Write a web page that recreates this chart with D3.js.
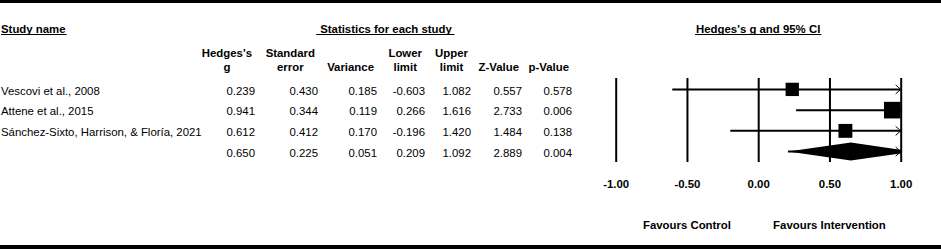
<!DOCTYPE html>
<html>
<head>
<meta charset="utf-8">
<script src="https://cdn.jsdelivr.net/npm/d3@7"></script>
<style>
  body { margin: 0; background: #fff; }
  svg { display: block; font-family: "Liberation Sans", Arial, sans-serif; }
</style>
</head>
<body>
<div id="forest"></div>
<script>
// study rows (last row is the pooled estimate)
var studyNames = ["Vescovi et al., 2008", "Attene et al., 2015", "Sánchez-Sixto, Harrison, & Floría, 2021", ""];
var hedgesG  = [0.239, 0.941, 0.612, 0.650];
var stdErr   = [0.430, 0.344, 0.412, 0.225];
var variance = [0.185, 0.119, 0.170, 0.051];
var lowerLim = [-0.603, 0.266, -0.196, 0.209];
var upperLim = [1.082, 1.616, 1.420, 1.092];
var zValue   = [0.557, 2.733, 1.484, 2.889];
var pValue   = [0.578, 0.006, 0.138, 0.004];

var colHeaders = [["Hedges's", "g"], ["Standard", "error"], ["Variance"], ["Lower", "limit"],
                  ["Upper", "limit"], ["Z-Value"], ["p-Value"]];
var xTicks = [-1, -0.5, 0, 0.5, 1];
var favourLabels = ["Favours Control", "Favours Intervention"];

var width = 941, height = 249;

var svg = d3.select("#forest")
  .append("svg")
    .attr("width", width)
    .attr("height", height);

// black bands top and bottom
svg.append("rect").attr("x", 0).attr("y", 0).attr("width", width).attr("height", 3).attr("fill", "#000");
svg.append("rect").attr("x", 0).attr("y", 245).attr("width", width).attr("height", 4).attr("fill", "#000");

var fontSize = 11.4;

// row positions
var y = d3.scalePoint()
  .domain(d3.range(studyNames.length))
  .range([89.4, 151.6]);

// table columns (right edge of each number column)
var columns = [hedgesG, stdErr, variance, lowerLim, upperLim, zValue, pValue];
var colX = d3.scaleOrdinal()
  .domain(d3.range(columns.length))
  .range([255, 318, 377, 425, 471, 522, 572]);

function underlined(txt, x, yy, anchor, padL, padR) {
  var t = svg.append("text")
    .attr("x", x).attr("y", yy)
    .attr("text-anchor", anchor)
    .attr("font-weight", "bold")
    .attr("font-size", fontSize)
    .text(txt);
  var b = t.node().getBBox();
  svg.append("line")
    .attr("x1", b.x - padL).attr("x2", b.x + b.width + padR)
    .attr("y1", 34.5).attr("y2", 34.5)
    .attr("stroke", "#000").attr("stroke-width", 1.2);
}

underlined("Study name", 1, 32.5, "start", 0, 1);
underlined("Statistics for each study", 386, 32.5, "middle", 4, 2);

// column headers
colHeaders.forEach(function(lines, i) {
  var g = svg.append("g");
  var texts = lines.map(function(l, j) {
    return g.append("text")
      .attr("y", lines.length == 2 ? 56.7 + j * 14 : 70.7)
      .attr("text-anchor", "middle")
      .attr("font-weight", "bold")
      .attr("font-size", fontSize)
      .text(l);
  });
  var w = d3.max(texts, function(t) { return t.node().getComputedTextLength(); });
  var cx = colX(i) - 3 - w / 2;
  texts.forEach(function(t) { t.attr("x", cx); });
});

// study names
svg.selectAll(".name")
  .data(studyNames)
  .enter().append("text")
    .attr("class", "name")
    .attr("x", 1)
    .attr("y", function(d, i) { return y(i) + 5.2; })
    .attr("font-size", fontSize)
    .text(function(d) { return d; });

// numbers
columns.forEach(function(col, c) {
  svg.selectAll(".col" + c)
    .data(col)
    .enter().append("text")
      .attr("class", "col" + c)
      .attr("x", colX(c))
      .attr("y", function(d, i) { return y(i) + 5.2; })
      .attr("text-anchor", "end")
      .attr("font-size", fontSize)
      .text(function(d) { return d.toFixed(3); });
});

// ---- forest plot ----
var x = d3.scaleLinear()
  .domain([-1, 1])
  .range([615.7, 900.7]);

var plotTop = 78, plotBottom = 162;

underlined("Hedges's g and 95% CI", x(0), 32.5, "middle", 1, 1);

var fmt = function(d) { return d3.format(".2f")(d).replace("\u2212", "-"); };

var axis = svg.append("g")
  .attr("transform", "translate(0," + plotBottom + ")")
  .call(d3.axisBottom(x).tickValues(xTicks).tickFormat(fmt)
        .tickSize(-(plotBottom - plotTop)).tickPadding(18));
axis.select(".domain").remove();
axis.selectAll(".tick line").attr("stroke", "#000").attr("stroke-width", 2);
axis.selectAll(".tick text")
  .attr("fill", "#000")
  .attr("font-family", "Liberation Sans, Arial, sans-serif")
  .attr("font-size", fontSize)
  .attr("font-weight", "bold");

// favours labels
svg.selectAll(".fav")
  .data(favourLabels)
  .enter().append("text")
    .attr("class", "fav")
    .attr("x", function(d, i) { return x(i == 0 ? -0.5 : 0.5); })
    .attr("y", 229)
    .attr("text-anchor", "middle")
    .attr("font-size", fontSize)
    .attr("font-weight", "bold")
    .text(function(d) { return d; });

var xmin = x.domain()[0], xmax = x.domain()[1];
var clamp = function(v) { return Math.max(xmin, Math.min(xmax, v)); };

var weights = variance.map(function(v) { return 1 / v; });
var nStudies = studyNames.length - 1;
var side = d3.scaleSqrt()
  .domain([0, d3.max(weights.slice(0, nStudies))])
  .range([0, 16.6]);

// confidence interval lines
svg.selectAll(".ci")
  .data(d3.range(studyNames.length))
  .enter().append("line")
    .attr("class", "ci")
    .attr("x1", function(i) { return x(clamp(lowerLim[i])); })
    .attr("x2", function(i) { return x(clamp(upperLim[i])); })
    .attr("y1", function(i) { return y(i); })
    .attr("y2", function(i) { return y(i); })
    .attr("stroke", "#000")
    .attr("stroke-width", 2);

// arrows where the interval runs past the axis
d3.range(studyNames.length).forEach(function(i) {
  if (upperLim[i] > xmax) {
    var ax = x(xmax), ay = y(i);
    svg.append("path")
      .attr("d", "M" + (ax - 5) + "," + (ay - 4.5) + "L" + ax + "," + ay + "L" + (ax - 5) + "," + (ay + 4.5))
      .attr("fill", "none").attr("stroke", "#000").attr("stroke-width", 1);
  }
  if (lowerLim[i] < xmin) {
    var bx = x(xmin), by = y(i);
    svg.append("path")
      .attr("d", "M" + (bx + 5) + "," + (by - 4.5) + "L" + bx + "," + by + "L" + (bx + 5) + "," + (by + 4.5))
      .attr("fill", "none").attr("stroke", "#000").attr("stroke-width", 1);
  }
});

// study squares
svg.selectAll(".sq")
  .data(d3.range(nStudies))
  .enter().append("rect")
    .attr("class", "sq")
    .attr("x", function(i) { return x(hedgesG[i]) - side(weights[i]) / 2; })
    .attr("y", function(i) { return y(i) - side(weights[i]) / 2; })
    .attr("width", function(i) { return side(weights[i]); })
    .attr("height", function(i) { return side(weights[i]); })
    .attr("fill", "#000");

// pooled diamond, clipped to the plot area
svg.append("clipPath").attr("id", "plotClip")
  .append("rect")
    .attr("x", x(xmin)).attr("y", plotTop)
    .attr("width", x(xmax) - x(xmin) + 1).attr("height", plotBottom - plotTop);

var s = nStudies, dy = y(s), hh = 9;
svg.append("path")
  .attr("clip-path", "url(#plotClip)")
  .attr("d", "M" + x(lowerLim[s]) + "," + dy +
             "L" + x(hedgesG[s]) + "," + (dy - hh) +
             "L" + x(upperLim[s]) + "," + dy +
             "L" + x(hedgesG[s]) + "," + (dy + hh) + "Z")
  .attr("fill", "#000");
</script>
</body>
</html>
